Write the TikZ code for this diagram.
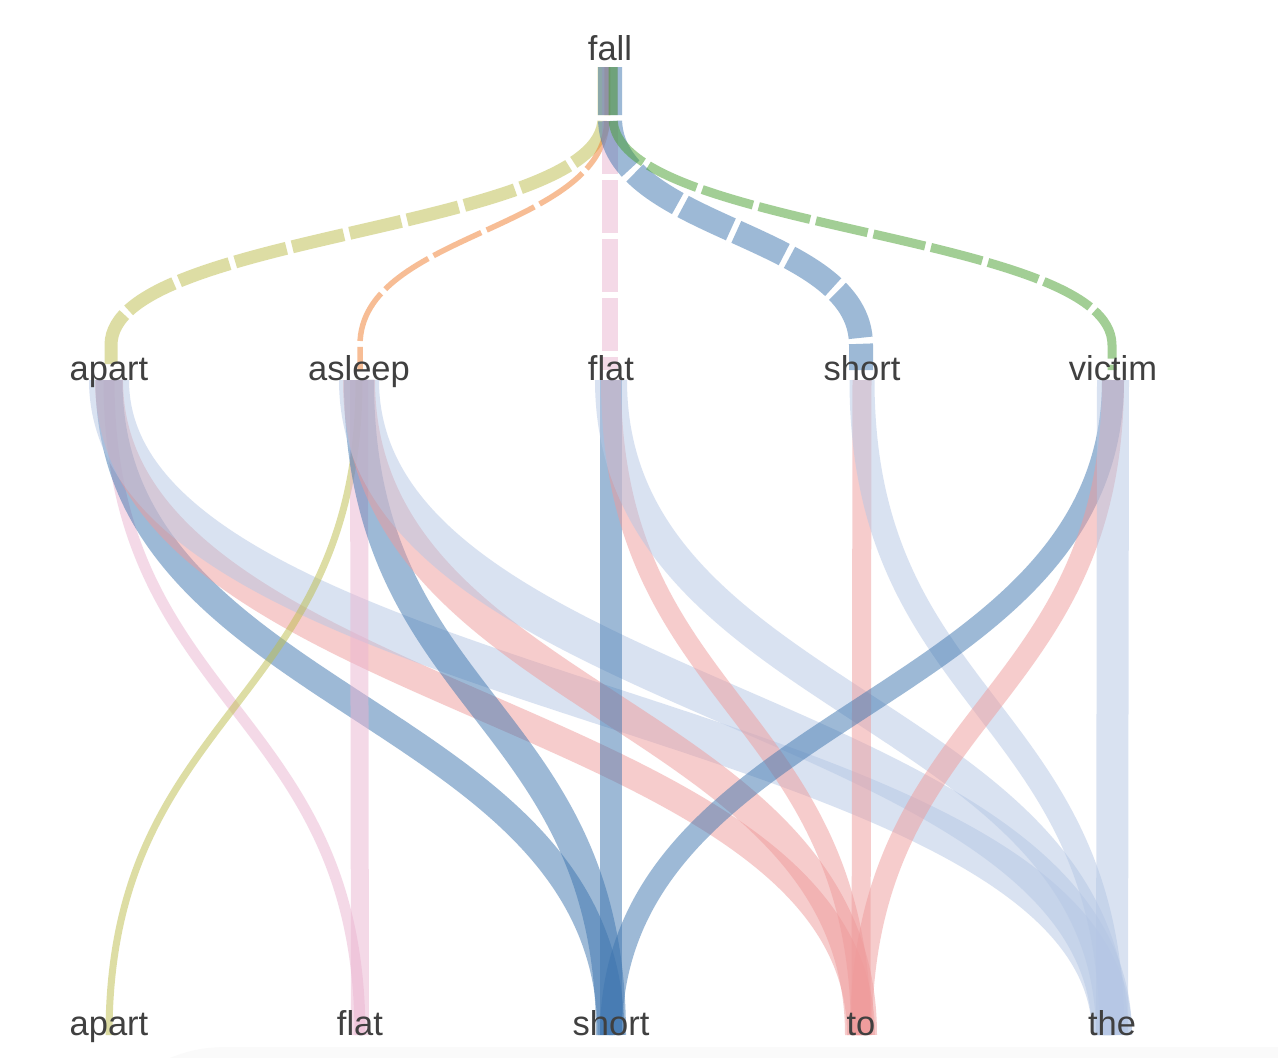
\documentclass[tikz,border=0pt]{standalone}
\usepackage{fontspec}
\setmainfont{Liberation Sans}
\usetikzlibrary{calc}
\definecolor{cBlue}{RGB}{61,117,175}
\definecolor{cLight}{RGB}{181,199,229}
\definecolor{cSalmon}{RGB}{239,155,155}
\definecolor{cPink}{RGB}{235,181,209}
\definecolor{cYellow}{RGB}{189,189,75}
\definecolor{cOrange}{RGB}{241,125,45}
\definecolor{cGreen}{RGB}{71,159,45}
\definecolor{labelgray}{RGB}{64,64,64}
\tikzset{
  lbl/.style={text=labelgray, font=\fontsize{34.5}{40}\selectfont, anchor=base, inner sep=0pt},
  topedge/.style={line width=#1, dash pattern=on 53pt off 6pt, dash phase=5pt, draw opacity=0.5},
  botedge/.style={line width=#1, draw opacity=0.5},
}
\begin{document}
\begin{tikzpicture}[x=1pt,y=-1pt]
\useasboundingbox (0,0) rectangle (1278,1058);
\fill[white] (0,0) rectangle (1278,1058);
\fill[black!2] (170,1058) .. controls (190,1050) and (205,1047) .. (230,1047) -- (1278,1047) -- (1278,1058) -- cycle;

% ports
\coordinate (fA) at (604,67);
\coordinate (fS) at (607,67);
\coordinate (fF) at (610,67);
\coordinate (fH) at (610,67);
\coordinate (fV) at (613,67);
\coordinate (iApart) at (111,345);
\coordinate (iAsleep) at (360,345);
\coordinate (iFlat) at (610,345);
\coordinate (iShort) at (861,345);
\coordinate (iVictim) at (1112,345);
\coordinate (oApart) at (109,380);
\coordinate (oAsleep) at (359,380);
\coordinate (oFlat) at (611,380);
\coordinate (oShort) at (862,380);
\coordinate (oVictim) at (1113,380);
\coordinate (tApart) at (109,1035);
\coordinate (tFlat) at (360,1035);
\coordinate (tShort) at (611,1035);
\coordinate (tTo) at (861,1035);
\coordinate (tThe) at (1112,1035);

% top dashed edges
\draw[topedge=13pt, cYellow] (fA) -- ++(0,51) .. controls +(0,113.5) and +(0,-113.5) .. (iApart) -- ++(0,25);
\draw[topedge=5.5pt, cOrange] (fS) -- ++(0,51) .. controls +(0,113.5) and +(0,-113.5) .. (iAsleep) -- ++(0,25);
\draw[topedge=16pt, cPink] (fF) -- ++(0,51) -- (iFlat) -- ++(0,25);
\draw[topedge=24pt, cBlue] (fH) -- ++(0,51) .. controls +(0,113.5) and +(0,-113.5) .. (iShort) -- ++(0,25);
\draw[topedge=9pt, cGreen] (fV) -- ++(0,51) .. controls +(0,113.5) and +(0,-113.5) .. (iVictim) -- ++(0,25);

% bottom edges
\draw[botedge=11pt, cPink] (oApart) .. controls +(0,327.5) and +(0,-327.5) .. (tFlat);
\draw[botedge=27pt, cBlue] (oApart) .. controls +(0,327.5) and +(0,-327.5) .. (tShort);
\draw[botedge=28pt, cSalmon] (oApart) .. controls +(0,327.5) and +(0,-327.5) .. (tTo);
\draw[botedge=40pt, cLight] (oApart) .. controls +(0,327.5) and +(0,-327.5) .. (tThe);

\draw[botedge=7pt, cYellow] (oAsleep) .. controls +(0,327.5) and +(0,-327.5) .. (tApart);
\draw[botedge=18pt, cPink] (oAsleep) .. controls +(0,327.5) and +(0,-327.5) .. (tFlat);
\draw[botedge=30pt, cBlue] (oAsleep) .. controls +(0,327.5) and +(0,-327.5) .. (tShort);
\draw[botedge=32pt, cSalmon] (oAsleep) .. controls +(0,327.5) and +(0,-327.5) .. (tTo);
\draw[botedge=40pt, cLight] (oAsleep) .. controls +(0,327.5) and +(0,-327.5) .. (tThe);

\draw[botedge=22pt, cBlue] (oFlat) .. controls +(0,327.5) and +(0,-327.5) .. (tShort);
\draw[botedge=20pt, cSalmon] (oFlat) .. controls +(0,327.5) and +(0,-327.5) .. (tTo);
\draw[botedge=32pt, cLight] (oFlat) .. controls +(0,327.5) and +(0,-327.5) .. (tThe);

\draw[botedge=19pt, cSalmon] (oShort) .. controls +(0,327.5) and +(0,-327.5) .. (tTo);
\draw[botedge=25pt, cLight] (oShort) .. controls +(0,327.5) and +(0,-327.5) .. (tThe);

\draw[botedge=22pt, cBlue] (oVictim) .. controls +(0,327.5) and +(0,-327.5) .. (tShort);
\draw[botedge=22pt, cSalmon] (oVictim) .. controls +(0,327.5) and +(0,-327.5) .. (tTo);
\draw[botedge=32pt, cLight] (oVictim) .. controls +(0,327.5) and +(0,-327.5) .. (tThe);

% labels
\node[lbl] (fall) at (610,60) {fall};
\node[lbl] (mApart) at (109,380) {apart};
\node[lbl] (mAsleep) at (359,380) {asleep};
\node[lbl] (mFlat) at (611,380) {flat};
\node[lbl] (mShort) at (862,380) {short};
\node[lbl] (mVictim) at (1113,380) {victim};
\node[lbl] (bApart) at (109,1035) {apart};
\node[lbl] (bFlat) at (360,1035) {flat};
\node[lbl] (bShort) at (611,1035) {short};
\node[lbl] (bTo) at (861,1035) {to};
\node[lbl] (bThe) at (1112,1035) {the};
\end{tikzpicture}
\end{document}
